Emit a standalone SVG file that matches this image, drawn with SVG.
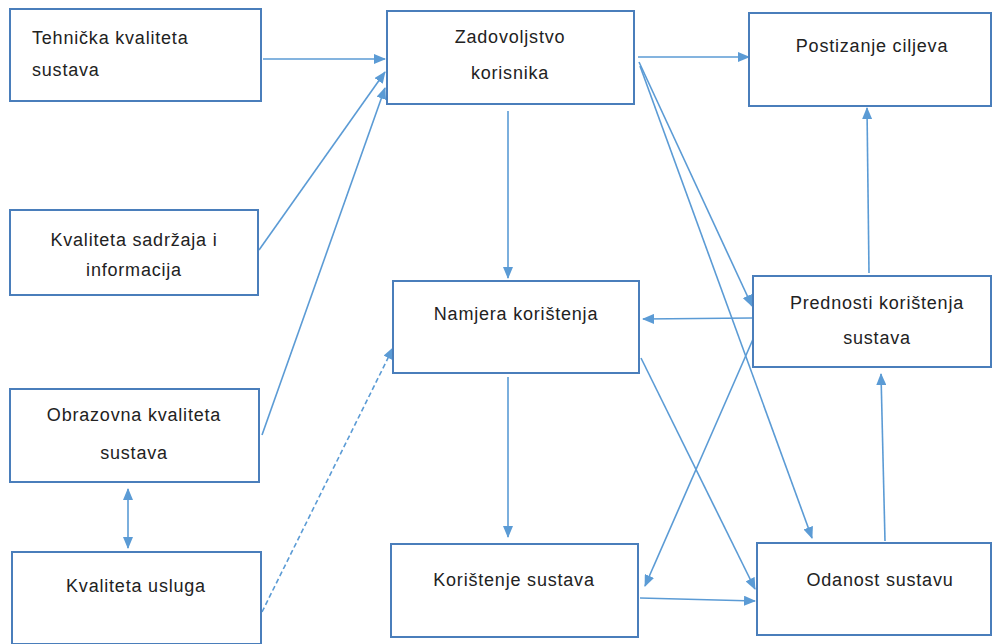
<svg xmlns="http://www.w3.org/2000/svg" width="992" height="644" viewBox="0 0 992 644">
<style>
.box{fill:#fff;stroke:#4a7ebb;stroke-width:2}
.t{font-family:"Liberation Sans",Arial,sans-serif;font-size:18px;fill:#222;letter-spacing:0.8px}
.m{text-anchor:middle}
.c{stroke:#5b9bd5;stroke-width:1.6;fill:none;marker-end:url(#ah)}
.d{stroke-dasharray:5 3}
</style>
<defs>
<marker id="ah" viewBox="0 0 12 10" refX="11" refY="5" markerWidth="12" markerHeight="10" markerUnits="userSpaceOnUse" orient="auto-start-reverse">
<path d="M0,0 L12,5 L0,10 z" fill="#5b9bd5"/>
</marker>
</defs>
<g id="connectors">
<line class="c" x1="263" y1="59" x2="385" y2="59"/>
<line class="c" x1="259" y1="250" x2="385" y2="72"/>
<line class="c" x1="262" y1="435" x2="385" y2="88"/>
<line class="c d" x1="262" y1="612" x2="393" y2="348"/>
<line class="c" x1="128" y1="548" x2="128" y2="489" style="marker-start:url(#ah)"/>
<line class="c" x1="508" y1="111" x2="508" y2="278"/>
<line class="c" x1="638" y1="57" x2="749" y2="57"/>
<line class="c" x1="639" y1="62" x2="752" y2="306"/>
<line class="c" x1="640" y1="66" x2="812" y2="538"/>
<line class="c" x1="869" y1="273" x2="867" y2="108"/>
<line class="c" x1="752" y1="318" x2="643" y2="319"/>
<line class="c" x1="754" y1="337" x2="645" y2="586"/>
<line class="c" x1="641" y1="358" x2="755" y2="589"/>
<line class="c" x1="508" y1="377" x2="508" y2="537"/>
<line class="c" x1="640" y1="598" x2="755" y2="601"/>
<line class="c" x1="885" y1="541" x2="881" y2="374"/>
</g>
<g id="tehnicka">
<rect class="box" x="10" y="9" width="251" height="92"/>
<text class="t" x="32" y="44">Tehnička kvaliteta</text>
<text class="t" x="32" y="76">sustava</text>
</g>
<g id="zadovoljstvo">
<rect class="box" x="387" y="11" width="247" height="93"/>
<text class="t m" x="510" y="43">Zadovoljstvo</text>
<text class="t m" x="510" y="79">korisnika</text>
</g>
<g id="postizanje">
<rect class="box" x="749" y="13" width="242" height="93"/>
<text class="t m" x="872" y="52">Postizanje ciljeva</text>
</g>
<g id="sadrzaj">
<rect class="box" x="10" y="210" width="248" height="85"/>
<text class="t m" x="134" y="246">Kvaliteta sadržaja i</text>
<text class="t m" x="134" y="276">informacija</text>
</g>
<g id="obrazovna">
<rect class="box" x="10" y="389" width="249" height="93"/>
<text class="t m" x="134" y="421">Obrazovna kvaliteta</text>
<text class="t m" x="134" y="459">sustava</text>
</g>
<g id="usluge">
<rect class="box" x="12" y="552" width="249" height="92"/>
<text class="t m" x="136" y="592">Kvaliteta usluga</text>
</g>
<g id="namjera">
<rect class="box" x="393" y="281" width="246" height="92"/>
<text class="t m" x="516" y="320">Namjera korištenja</text>
</g>
<g id="koristenje">
<rect class="box" x="391" y="544" width="247" height="93"/>
<text class="t m" x="514" y="586">Korištenje sustava</text>
</g>
<g id="prednosti">
<rect class="box" x="753" y="276" width="238" height="91"/>
<text class="t m" x="877" y="309">Prednosti korištenja</text>
<text class="t m" x="877" y="344">sustava</text>
</g>
<g id="odanost">
<rect class="box" x="757" y="543" width="234" height="92"/>
<text class="t m" x="880" y="586">Odanost sustavu</text>
</g>
</svg>
